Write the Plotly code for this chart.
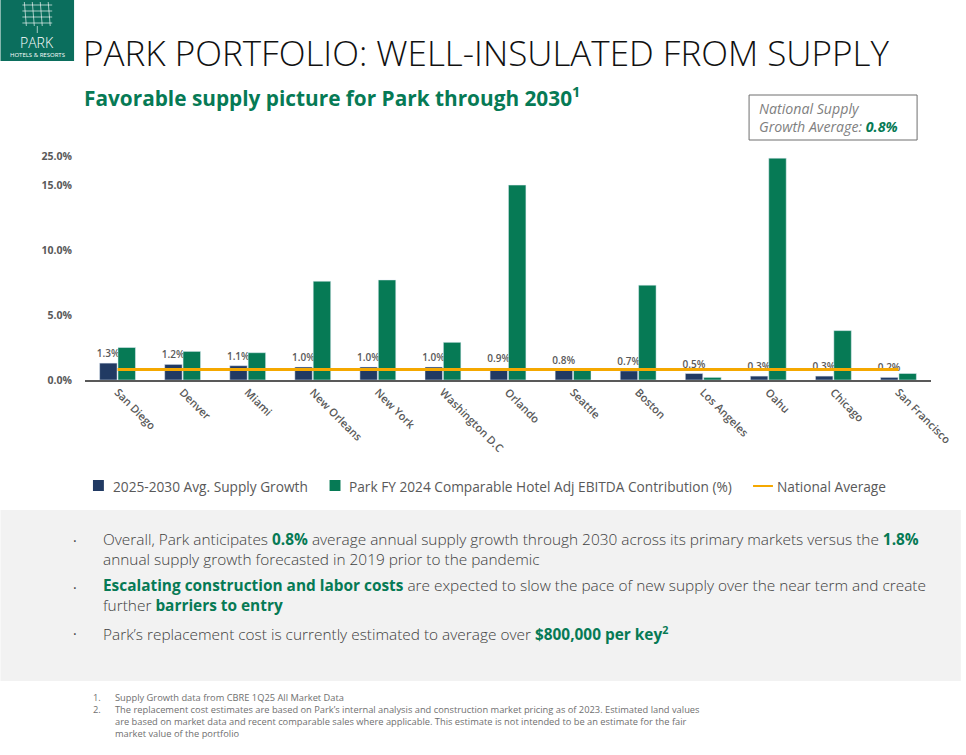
import plotly.graph_objects as go

# ---------------- data ----------------
cities = ["San Diego", "Denver", "Miami", "New Orleans", "New York", "Washington D.C",
          "Orlando", "Seattle", "Boston", "Los Angeles", "Oahu", "Chicago", "San Francisco"]
supply_growth = [1.3, 1.2, 1.1, 1.0, 1.0, 1.0, 0.9, 0.8, 0.7, 0.5, 0.3, 0.3, 0.2]
ebitda_contrib = [2.5, 2.2, 2.1, 7.6, 7.7, 2.9, 15.0, 0.8, 7.3, 0.2, 24.5, 3.8, 0.5]
national_avg = 0.8
tick_values = [0, 5, 10, 15, 25]
tick_labels = ["0.0%", "5.0%", "10.0%", "15.0%", "25.0%"]

NAVY = "#213a63"
GREEN = "#067a55"
ORANGE = "#f5a800"
GRAY = "#595959"
FONT = "Open Sans"

W, H = 966, 755
L, R, T, B = 85, 936, 150, 380  # plot area in pixels


def axis_pos(v):
    # broken axis: above 15% the scale is compressed
    return v if v <= 15 else 15 + (v - 15) * 0.218


def X(px):
    return (px - L) / (R - L)


def Y(py):
    return (B - py) / (B - T)


fig = go.Figure()
fig.add_trace(go.Bar(
    x=cities, y=[axis_pos(v) for v in supply_growth], name="2025-2030 Avg. Supply Growth",
    marker_color=NAVY, text=[f"{v:.1f}%" for v in supply_growth], textposition="outside",
    textfont=dict(family=FONT, size=10, color=GRAY, weight=600), constraintext="none",
    cliponaxis=False, showlegend=False))
fig.add_trace(go.Bar(
    x=cities, y=[axis_pos(v) for v in ebitda_contrib],
    name="Park FY 2024 Comparable Hotel Adj EBITDA Contribution (%)",
    marker_color=GREEN, showlegend=False))
fig.add_trace(go.Scatter(
    x=cities, y=[axis_pos(national_avg)] * len(cities), mode="lines", name="National Average",
    line=dict(color=ORANGE, width=3), showlegend=False))

shapes = []
annotations = []

# gray panel
shapes.append(dict(type="rect", xref="paper", yref="paper", x0=X(0), x1=X(W), y0=Y(510), y1=Y(681),
                   fillcolor="#f2f2f2", line=dict(width=0), layer="below"))

# logo
shapes.append(dict(type="rect", xref="paper", yref="paper", x0=X(0), x1=X(74), y0=Y(0), y1=Y(61),
                   fillcolor="#0b6e5d", line=dict(width=0)))
for i in range(4):
    shapes.append(dict(type="line", xref="paper", yref="paper", x0=X(24 + i * 8), x1=X(26 + i * 8),
                       y0=Y(2), y1=Y(26), line=dict(color="rgba(255,255,255,0.8)", width=0.8)))
for j in range(4):
    shapes.append(dict(type="line", xref="paper", yref="paper", x0=X(22), x1=X(52),
                       y0=Y(5 + j * 6), y1=Y(5 + j * 6), line=dict(color="rgba(255,255,255,0.8)", width=0.8)))
shapes.append(dict(type="line", xref="paper", yref="paper", x0=X(37), x1=X(37), y0=Y(26), y1=Y(33),
                   line=dict(color="rgba(255,255,255,0.8)", width=0.8)))
annotations.append(dict(x=X(37), y=Y(42), xref="paper", yref="paper", text="PARK", showarrow=False,
                        font=dict(family=FONT, size=14, color="white", weight=300), xanchor="center", yanchor="middle"))
annotations.append(dict(x=X(37), y=Y(55), xref="paper", yref="paper", text="HOTELS & RESORTS", showarrow=False,
                        font=dict(family=FONT, size=6, color="white"), xanchor="center", yanchor="middle"))

# title & subtitle
annotations.append(dict(x=X(81), y=Y(52), xref="paper", yref="paper",
                        text="PARK PORTFOLIO: WELL-INSULATED FROM SUPPLY", showarrow=False,
                        font=dict(family=FONT, size=35, color="#111111", weight=300),
                        xanchor="left", yanchor="middle"))
annotations.append(dict(x=X(82), y=Y(96), xref="paper", yref="paper",
                        text="Favorable supply picture for Park through 2030<sup>1</sup>", showarrow=False,
                        font=dict(family=FONT, size=20.8, color=GREEN, weight=700),
                        xanchor="left", yanchor="middle"))

# national average box
shapes.append(dict(type="rect", xref="paper", yref="paper", x0=X(753), x1=X(922), y0=Y(95), y1=Y(140),
                   fillcolor="white", line=dict(color="#6f6f6f", width=1)))
annotations.append(dict(x=X(761), y=Y(118), xref="paper", yref="paper",
                        text="<i>National Supply<br>Growth Average: <b><span style='color:%s'>0.8%%</span></b></i>" % GREEN,
                        showarrow=False, align="left", font=dict(family=FONT, size=14.2, color="#7f7f7f"),
                        xanchor="left", yanchor="middle"))

# legend (manual)
shapes.append(dict(type="rect", xref="paper", yref="paper", x0=X(93), x1=X(104), y0=Y(480), y1=Y(491),
                   fillcolor=NAVY, line=dict(width=0)))
annotations.append(dict(x=X(111), y=Y(486), xref="paper", yref="paper", text="2025-2030 Avg. Supply Growth",
                        showarrow=False, font=dict(family=FONT, size=13.7, color=GRAY), xanchor="left", yanchor="middle"))
shapes.append(dict(type="rect", xref="paper", yref="paper", x0=X(331), x1=X(342), y0=Y(480), y1=Y(491),
                   fillcolor=GREEN, line=dict(width=0)))
annotations.append(dict(x=X(349), y=Y(486), xref="paper", yref="paper",
                        text="Park FY 2024 Comparable Hotel Adj EBITDA Contribution (%)",
                        showarrow=False, font=dict(family=FONT, size=13.7, color=GRAY), xanchor="left", yanchor="middle"))
shapes.append(dict(type="line", xref="paper", yref="paper", x0=X(757), x1=X(777), y0=Y(486), y1=Y(486),
                   line=dict(color=ORANGE, width=2)))
annotations.append(dict(x=X(779), y=Y(486), xref="paper", yref="paper", text="National Average",
                        showarrow=False, font=dict(family=FONT, size=13.7, color=GRAY), xanchor="left", yanchor="middle"))

# bullets
bul = "<b><span style='color:%s'>%%s</span></b>" % GREEN
bullets = [
    (549, 540, "Overall, Park anticipates " + bul % "0.8%" +
     " average annual supply growth through 2030 across its primary markets versus the " + bul % "1.8%" +
     "<br>annual supply growth forecasted in 2019 prior to the pandemic"),
    (595, 587, bul % "Escalating construction and labor costs" +
     " are expected to slow the pace of new supply over the near term and create<br>further " +
     bul % "barriers to entry"),
    (633, 633, "Park’s replacement cost is currently estimated to average over " + bul % "$800,000 per key<sup>2</sup>"),
]
for yy, ydot, txt in bullets:
    annotations.append(dict(x=X(75), y=Y(ydot), xref="paper", yref="paper", text="·",
                            showarrow=False, font=dict(family=FONT, size=14, color="#404040"),
                            xanchor="center", yanchor="middle"))
    annotations.append(dict(x=X(101), y=Y(yy), xref="paper", yref="paper", text=txt, showarrow=False,
                            align="left", font=dict(family=FONT, size=15.4, color="#404040", weight=300),
                            xanchor="left", yanchor="middle"))

# footnotes
notes = [
    (689, "1.", "Supply Growth data from CBRE 1Q25 All Market Data"),
    (701, "2.", "The replacement cost estimates are based on Park’s internal analysis and construction market pricing as of 2023. Estimated land values"
                "<br>are based on market data and recent comparable sales where applicable. This estimate is not intended to be an estimate for the fair"
                "<br>market value of the portfolio"),
]
for yy, num, txt in notes:
    annotations.append(dict(x=X(91), y=Y(yy), xref="paper", yref="paper", text=num, showarrow=False,
                            font=dict(family=FONT, size=9.3, color="#6f6f6f"), xanchor="left", yanchor="top"))
    annotations.append(dict(x=X(113), y=Y(yy), xref="paper", yref="paper", text=txt, showarrow=False,
                            align="left", font=dict(family=FONT, size=9.3, color="#6f6f6f"),
                            xanchor="left", yanchor="top"))

fig.update_layout(
    width=W, height=H, autosize=False,
    margin=dict(l=L, r=W - R, t=T, b=H - B, pad=0),
    paper_bgcolor="white", plot_bgcolor="white",
    barmode="group", bargap=0.435, bargroupgap=0.05,
    showlegend=False,
    shapes=shapes, annotations=annotations,
    font=dict(family=FONT, color=GRAY),
)
fig.update_xaxes(showline=True, linecolor=GRAY, linewidth=1.5, ticks="", showgrid=False, tickangle=45,
                 tickfont=dict(family=FONT, size=11, color=GRAY, weight=600))
fig.update_yaxes(range=[0, 17.7], tickvals=[axis_pos(v) for v in tick_values], ticktext=tick_labels,
                 showgrid=False, zeroline=False, showline=False, ticks="", ticklabelstandoff=12,
                 tickfont=dict(family=FONT, size=10.5, color=GRAY, weight=700))

page_fix = (
    "var gd=document.getElementById('{plot_id}');"
    "gd.style.display='block';"
    "var p=gd.parentElement; p.style.height='755px'; p.style.width='966px'; p.style.overflow='hidden';"
    "document.body.style.margin='0'; document.body.style.padding='0';"
    "document.body.style.height='755px'; document.body.style.overflow='hidden';"
    "document.documentElement.style.height='755px'; document.documentElement.style.overflow='hidden';"
)
fig.write_html("out.html", config={"displayModeBar": False, "responsive": False}, post_script=page_fix)
